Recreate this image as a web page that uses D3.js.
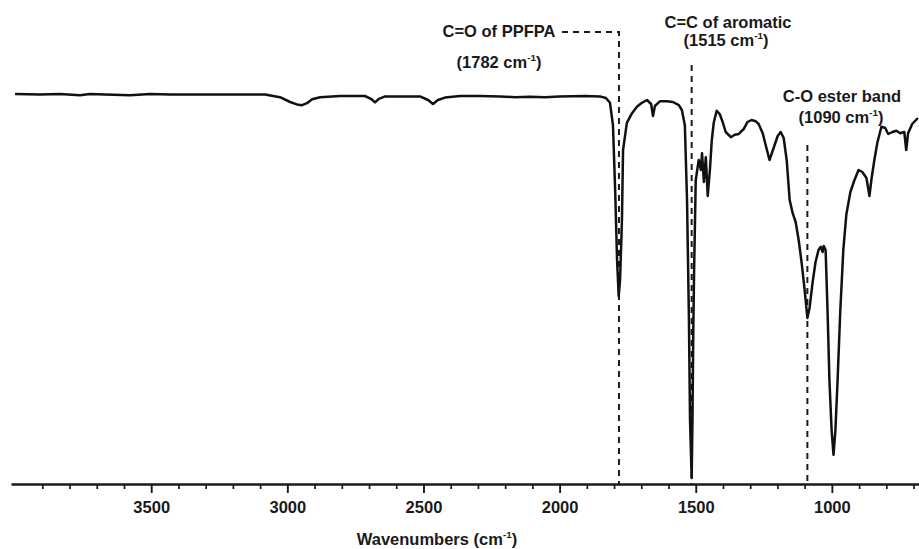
<!DOCTYPE html>
<html>
<head>
<meta charset="utf-8">
<script src="https://cdn.jsdelivr.net/npm/d3@7/dist/d3.min.js"></script>
<style>
  html, body { margin: 0; padding: 0; background: #fff; }
  svg { display: block; }
  text { font-family: "Liberation Sans", Arial, Helvetica, sans-serif; font-weight: bold; fill: #1a1a1a; }
</style>
</head>
<body>
<svg id="chart" width="919" height="549"></svg>
<script>
// ---- data ----
const wavenumbers = [
  4000,3908,3835,3762,3725,3670,3578,3504,3431,3321,3211,3082,3027,2990,2965,2946,2928,2909,2880,2807,
  2715,2693,2678,2664,2641,2513,2483,2465,2447,2421,2366,2292,2219,2164,2109,2054,2000,1907,1852,1830,
  1815,1804,1796,1789,1783,1778,1771,1767,1753,1734,1716,1698,1679,1664,1657,1650,1631,1606,1584,1562,
  1551,1540,1532,1525,1521,1515,1512,1509,1506,1500,1489,1481,1477,1470,1463,1456,1448,1441,1434,1423,
  1412,1401,1390,1371,1357,1342,1331,1324,1310,1295,1280,1269,1254,1243,1229,1214,1199,1188,1177,1166,
  1155,1144,1133,1122,1111,1100,1090,1082,1071,1060,1049,1041,1034,1030,1023,1016,1009,1001,994,987,
  979,969,958,947,932,917,902,888,873,862,855,844,833,818,804,793,778,763,749,734,
  727,720,705,684
];
const transmittance = [
  99.0,98.9,99.0,98.7,99.0,98.9,98.7,99.0,98.9,98.9,98.9,98.9,98.2,97.0,96.4,96.2,96.7,97.7,98.2,98.5,
  98.5,97.8,96.9,97.8,98.4,98.4,97.5,96.5,97.5,98.1,98.5,98.5,98.4,98.2,98.3,98.2,98.4,98.5,98.4,98.0,
  96.8,91.2,75.0,57.5,48.5,52.5,67.5,85.0,91.8,94.2,95.8,96.8,97.5,96.5,93.5,96.0,97.2,97.2,97.0,96.2,
  95.0,91.2,72.5,42.5,17.5,3.0,17.5,40.0,55.0,77.5,82.5,80.0,84.2,77.0,83.2,73.5,80.0,87.5,91.8,94.8,
  94.0,92.0,89.5,88.2,88.8,89.0,89.8,90.2,92.0,92.5,92.2,91.5,89.2,86.2,82.5,85.5,88.5,89.5,88.0,82.5,
  72.5,69.2,67.0,62.5,56.8,50.0,43.0,45.5,51.8,57.0,60.0,60.8,59.5,61.0,60.0,45.0,27.5,15.0,8.8,15.0,
  27.5,45.0,60.0,68.8,74.5,77.5,80.0,79.5,78.0,73.5,77.5,82.5,86.8,90.8,90.5,89.0,89.5,89.8,89.2,89.5,
  85.0,89.2,91.5,93.0
];
const majorTicks = [3500, 3000, 2500, 2000, 1500, 1000];
const minorTicks = [3900,3800,3700,3600,3400,3300,3200,3100,2900,2800,2700,2600,2400,2300,2200,2100,
                    1900,1800,1700,1600,1400,1300,1200,1100,900,800,700];
const annotationBands = [1782, 1515, 1090];
const annotationTitles = ["C=O of PPFPA", "C=C of aromatic", "C-O ester band"];
const annotationValues = ["(1782 cm", "(1515 cm", "(1090 cm"];
const xTitle = "Wavenumbers (cm";

// ---- layout ----
const svg = d3.select("#chart");
const axisY = 484;
const FS = 16.5;
const x = d3.scaleLinear().domain([4015, 680]).range([11, 919]);
const y = d3.scaleLinear().domain([0, 100]).range([490, 90]);

// ---- axis ----
const minorAxis = d3.axisBottom(x).tickValues(minorTicks).tickSize(5).tickSizeOuter(0).tickFormat("");
const majorAxis = d3.axisBottom(x).tickValues(majorTicks).tickSize(9).tickSizeOuter(0)
  .tickPadding(8).tickFormat(d3.format("d"));

const gMinor = svg.append("g").attr("transform", `translate(0,${axisY})`).call(minorAxis);
gMinor.select(".domain").remove();
gMinor.selectAll(".tick line").attr("stroke", "#1a1a1a").attr("stroke-width", 1.7);

const gMajor = svg.append("g").attr("transform", `translate(0,${axisY})`).call(majorAxis);
gMajor.select(".domain").attr("stroke", "#1a1a1a").attr("stroke-width", 2.3);
gMajor.selectAll(".tick line").attr("stroke", "#1a1a1a").attr("stroke-width", 1.9);
gMajor.selectAll(".tick text").attr("font-size", FS).attr("font-weight", "bold")
  .attr("font-family", '"Liberation Sans", Arial, sans-serif').attr("fill", "#1a1a1a");

// text with a "-1" superscript
function supText(sel, base, cx, baseline, size) {
  const t = sel.append("text").attr("x", cx).attr("y", baseline)
    .attr("text-anchor", "middle").attr("font-size", size);
  t.append("tspan").text(base);
  t.append("tspan").attr("font-size", size * 0.6).attr("dy", -size * 0.42).text("-1");
  t.append("tspan").attr("dy", size * 0.42).text(")");
  return t;
}
supText(svg, xTitle, 437, 545, FS);

// ---- annotations ----
const dash = "6,5";
const annG = svg.append("g");
const xCO = x(annotationBands[0]);
annG.append("path")
  .attr("d", `M562,32 H${xCO} V${axisY}`)
  .attr("fill", "none").attr("stroke", "#1a1a1a").attr("stroke-width", 2).attr("stroke-dasharray", dash);
annG.append("line").attr("x1", x(annotationBands[1])).attr("x2", x(annotationBands[1]))
  .attr("y1", 65).attr("y2", axisY)
  .attr("stroke", "#1a1a1a").attr("stroke-width", 2).attr("stroke-dasharray", dash);
annG.append("line").attr("x1", x(annotationBands[2])).attr("x2", x(annotationBands[2]))
  .attr("y1", 145).attr("y2", axisY)
  .attr("stroke", "#1a1a1a").attr("stroke-width", 2).attr("stroke-dasharray", dash);

const titlePos = [[499, 37], [728, 28], [842, 102]];
const valuePos = [[499, 68], [726, 46], [841, 123]];
annotationTitles.forEach((t, i) => {
  annG.append("text").attr("x", titlePos[i][0]).attr("y", titlePos[i][1])
    .attr("text-anchor", "middle").attr("font-size", FS).text(t);
  supText(annG, annotationValues[i], valuePos[i][0], valuePos[i][1], FS);
});

// ---- spectrum ----
const pts = wavenumbers.map((w, i) => [w, transmittance[i]]);
const line = d3.line().x(d => x(d[0])).y(d => y(d[1])).curve(d3.curveLinear);
svg.append("path").datum(pts).attr("d", line)
  .attr("fill", "none").attr("stroke", "#111").attr("stroke-width", 2.5)
  .attr("stroke-linejoin", "round");
</script>
</body>
</html>
